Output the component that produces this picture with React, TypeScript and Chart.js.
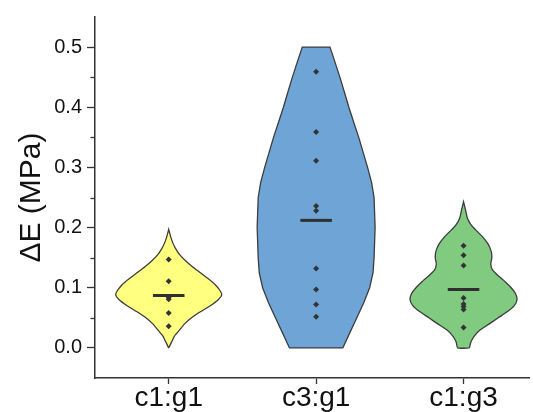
import React, { useEffect, useRef } from "react";
import { Chart, registerables } from "chart.js";

Chart.register(...registerables);

// ---- data ----
const categories = ["c1:g1", "c3:g1", "c1:g3"];

const c1g1Points = [0.147, 0.111, 0.084, 0.081, 0.058, 0.036];
const c3g1Points = [0.459, 0.359, 0.311, 0.236, 0.228, 0.132, 0.097, 0.072, 0.052];
const c1g3Points = [0.17, 0.154, 0.137, 0.083, 0.073, 0.069, 0.064, 0.034];

const meanValues = [0.087, 0.212, 0.097];

// violin density outline: value levels and half-widths (in category units)
const c1g1Levels = [0, 0.01, 0.02, 0.03, 0.04, 0.05, 0.06, 0.07, 0.08, 0.088, 0.095, 0.105, 0.115, 0.125, 0.135, 0.145, 0.155, 0.165, 0.175, 0.185, 0.197];
const c1g1HalfWidth = [0, 0.02, 0.04, 0.074, 0.108, 0.155, 0.215, 0.282, 0.336, 0.36, 0.349, 0.316, 0.269, 0.215, 0.161, 0.114, 0.074, 0.047, 0.027, 0.013, 0];

const c3g1Levels = [0, 0.025, 0.05, 0.075, 0.1, 0.125, 0.15, 0.2, 0.25, 0.275, 0.3, 0.325, 0.35, 0.375, 0.4, 0.425, 0.45, 0.475, 0.5];
const c3g1HalfWidth = [0.181, 0.228, 0.276, 0.323, 0.363, 0.386, 0.393, 0.4, 0.393, 0.376, 0.349, 0.319, 0.289, 0.255, 0.222, 0.192, 0.161, 0.128, 0.094];

const c1g3Levels = [0, 0.01, 0.02, 0.03, 0.04, 0.05, 0.06, 0.07, 0.08, 0.09, 0.1, 0.11, 0.12, 0.13, 0.14, 0.15, 0.16, 0.172, 0.185, 0.195, 0.205, 0.215, 0.23, 0.243];
const c1g3HalfWidth = [0.04, 0.05, 0.074, 0.114, 0.175, 0.235, 0.296, 0.343, 0.363, 0.353, 0.323, 0.282, 0.235, 0.195, 0.185, 0.192, 0.188, 0.168, 0.128, 0.087, 0.05, 0.027, 0.013, 0];

const yTickValues = [0, 0.1, 0.2, 0.3, 0.4, 0.5];
const yMinorTickValues = [0.05, 0.15, 0.25, 0.35, 0.45];

// ---- styles ----
const fillColors = ["#FFFF80", "#6FA5D6", "#80CB80"];
const outlineTension = [0.2, 0, 0.2];
const edgeColor = "#3c3c3c";
const axisColor = "#333333";
const fontFamily = "'Liberation Sans', Arial, sans-serif";

function outline(center: number, levels: number[], hw: number[]) {
  const pts: { x: number; y: number }[] = [];
  for (let i = 0; i < levels.length; i++) pts.push({ x: center + hw[i], y: levels[i] });
  for (let i = levels.length - 1; i >= 0; i--) pts.push({ x: center - hw[i], y: levels[i] });
  pts.push({ ...pts[0] });
  return pts;
}

const minorTicks = {
  id: "minorTicks",
  afterDraw(chart: any) {
    const y = chart.scales.y;
    const ctx = chart.ctx;
    ctx.save();
    ctx.strokeStyle = axisColor;
    ctx.lineWidth = 1.3;
    for (const v of yMinorTickValues) {
      const py = Math.round(y.getPixelForValue(v)) + 0.5;
      ctx.beginPath();
      ctx.moveTo(y.right - 4.5, py);
      ctx.lineTo(y.right, py);
      ctx.stroke();
    }
    ctx.restore();
  },
};

export default function App() {
  const ref = useRef<HTMLCanvasElement | null>(null);

  useEffect(() => {
    if (!ref.current) return;
    const groups = [
      { pts: c1g1Points, lv: c1g1Levels, hw: c1g1HalfWidth },
      { pts: c3g1Points, lv: c3g1Levels, hw: c3g1HalfWidth },
      { pts: c1g3Points, lv: c1g3Levels, hw: c1g3HalfWidth },
    ];
    const datasets: any[] = [];
    groups.forEach((g, i) => {
      const c = i + 1;
      datasets.push({
        type: "line",
        data: outline(c, g.lv, g.hw),
        borderColor: edgeColor,
        borderWidth: 1.3,
        backgroundColor: fillColors[i],
        fill: "shape",
        tension: outlineTension[i],
        pointRadius: 0,
        order: 3,
      });
      datasets.push({
        type: "line",
        data: [
          { x: c - 0.107, y: meanValues[i] },
          { x: c + 0.107, y: meanValues[i] },
        ],
        borderColor: "#2f2f2f",
        borderWidth: 3,
        pointRadius: 0,
        fill: false,
        order: 2,
      });
      datasets.push({
        type: "scatter",
        data: g.pts.map((v) => ({ x: c, y: v })),
        pointStyle: "rectRot",
        pointRadius: 3,
        backgroundColor: "#333333",
        borderColor: "#333333",
        borderWidth: 0,
        order: 1,
      });
    });

    const chart = new Chart(ref.current, {
      type: "line",
      data: { datasets },
      plugins: [minorTicks],
      options: {
        animation: false,
        responsive: false,
        devicePixelRatio: 1,
        layout: { padding: { top: 12, right: 0, bottom: 0, left: 0 } },
        plugins: { legend: { display: false }, tooltip: { enabled: false } },
        scales: {
          x: {
            type: "linear",
            min: 0.5,
            max: 3.444,
            afterBuildTicks: (s: any) => {
              s.ticks = [1, 2, 3].map((v) => ({ value: v }));
            },
            afterFit: (s: any) => {
              s.height = 34;
            },
            ticks: {
              callback: (v: any) => categories[Math.round(v) - 1] ?? "",
              font: { family: fontFamily, size: 28 },
              color: "#111111",
              padding: -3,
              maxRotation: 0,
              autoSkip: false,
            },
            grid: { drawOnChartArea: false, drawTicks: true, tickLength: 6, tickColor: axisColor, tickWidth: 1.3 },
            border: { display: true, color: axisColor, width: 1.5 },
          },
          y: {
            type: "linear",
            min: -0.05,
            max: 0.55,
            afterBuildTicks: (s: any) => {
              s.ticks = yTickValues.map((v) => ({ value: v }));
            },
            afterFit: (s: any) => {
              s.width = 95;
            },
            ticks: {
              callback: (v: any) => Number(v).toFixed(1),
              font: { family: fontFamily, size: 20 },
              color: "#111111",
              padding: 5,
            },
            grid: { drawOnChartArea: false, drawTicks: true, tickLength: 8, tickColor: axisColor, tickWidth: 1.3 },
            border: { display: true, color: axisColor, width: 1.5 },
            title: {
              display: true,
              text: "ΔE (MPa)",
              font: { family: fontFamily, size: 30 },
              color: "#111111",
              padding: { top: 14, bottom: 0 },
            },
          },
        },
      },
    });
    return () => chart.destroy();
  }, []);

  return (
    <canvas
      ref={ref}
      width={533}
      height={412}
      style={{ position: "fixed", left: 0, top: 0, width: 533, height: 412, background: "#ffffff" }}
    />
  );
}
